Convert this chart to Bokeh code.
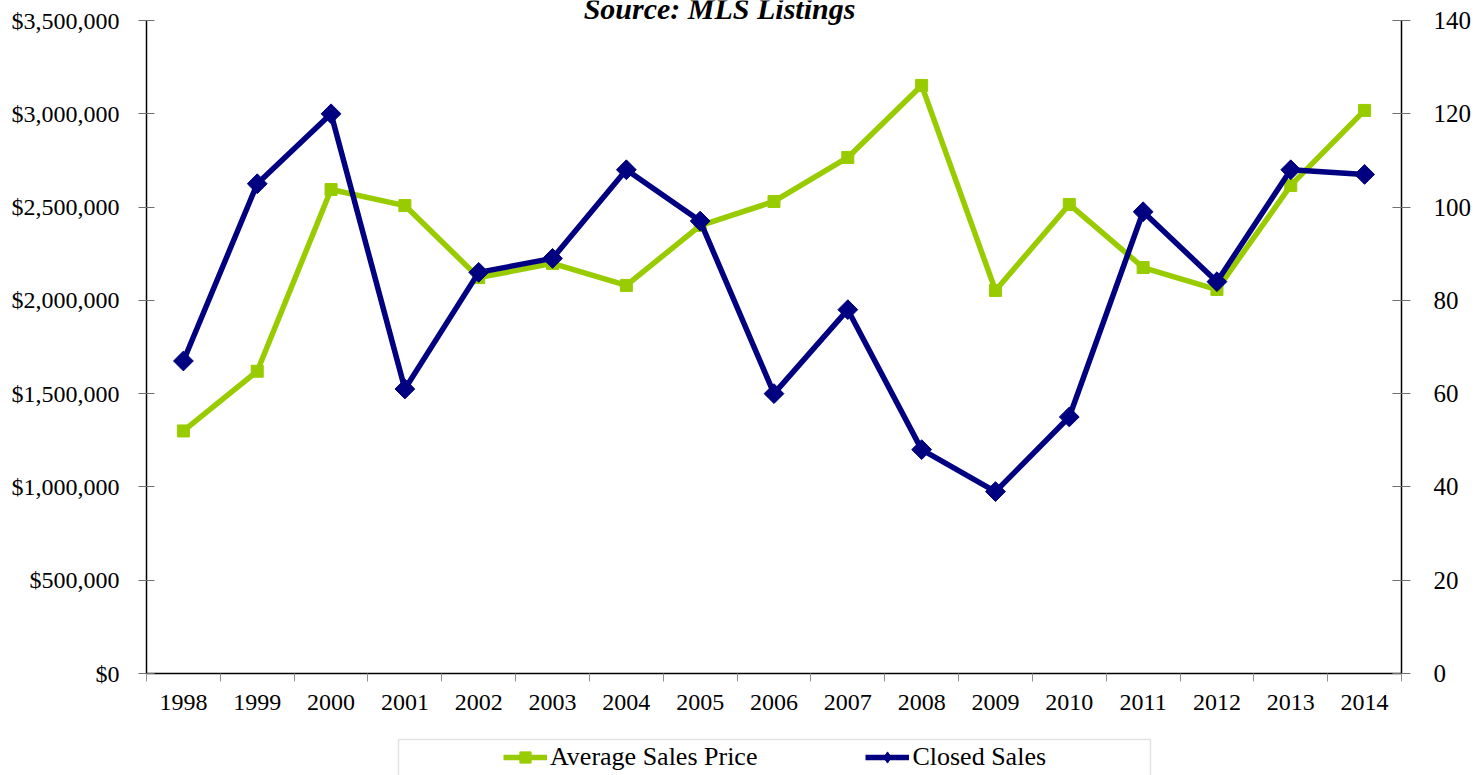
from bokeh.plotting import figure
from bokeh.layouts import column
from bokeh.models import (Range1d, LinearAxis, FixedTicker, NumeralTickFormatter,
                          Label, Legend, LegendItem, BoxAnnotation)
from bokeh.embed import file_html
from bokeh.resources import INLINE

years = ["1998", "1999", "2000", "2001", "2002", "2003", "2004", "2005", "2006",
         "2007", "2008", "2009", "2010", "2011", "2012", "2013", "2014"]
avg_price = [1300000, 1620000, 2594000, 2508000, 2122000, 2198000, 2080000, 2401000,
             2530000, 2766000, 3152000, 2053000, 2514000, 2176000, 2058000, 2616000, 3018000]
closed_sales = [67, 105, 120, 61, 86, 89, 108, 97, 60, 78, 48, 39, 55, 99, 84, 108, 107]
price_ticks = [0, 500000, 1000000, 1500000, 2000000, 2500000, 3000000, 3500000]
sales_ticks = [0, 20, 40, 60, 80, 100, 120, 140]
title_text = "Source: MLS Listings"
series_names = ["Average Sales Price", "Closed Sales"]

FONT = "Liberation Serif"
GREEN = "#99CC00"
NAVY = "#000080"

# plot area: axes span 653 px, frame extends 20 px above for the title
AX_H = 653
TOP_PAD = 20
FRAME_H = AX_H + TOP_PAD
FRAME_L = 146
FRAME_W = 1255
price_max = price_ticks[-1]
sales_max = sales_ticks[-1]

xs = [i + 0.5 for i in range(len(years))]

p = figure(frame_width=FRAME_W, frame_height=FRAME_H, output_backend="svg", toolbar_location=None,
           x_range=Range1d(0, len(years)),
           y_range=Range1d(0, price_max * FRAME_H / AX_H),
           min_border_left=FRAME_L, min_border_top=0, min_border_right=79, min_border_bottom=52,
           x_axis_location=None, y_axis_location=None)
p.outline_line_color = None
p.xgrid.visible = False
p.ygrid.visible = False
p.background_fill_color = "white"
p.border_fill_color = "white"

p.extra_y_ranges = {"sales": Range1d(0, sales_max * FRAME_H / AX_H)}

# bottom axis (ticks between categories, labels at centres)
xaxis = LinearAxis(ticker=FixedTicker(ticks=xs, minor_ticks=list(range(len(years) + 1))))
xaxis.major_label_overrides = {x: y for x, y in zip(xs, years)}
xaxis.major_tick_in = 0
xaxis.major_tick_out = 0
xaxis.minor_tick_in = 0
xaxis.minor_tick_out = 8
xaxis.minor_tick_line_color = "#909090"
xaxis.axis_line_color = "black"
xaxis.axis_line_width = 1.5
xaxis.major_label_text_font = FONT
xaxis.major_label_text_font_size = "24px"
xaxis.major_label_text_color = "black"
xaxis.major_label_standoff = 13
p.add_layout(xaxis, "below")

# left axis
yaxis = LinearAxis(ticker=FixedTicker(ticks=price_ticks),
                   formatter=NumeralTickFormatter(format="$0,0"),
                   bounds=(0, price_max))
yaxis.major_tick_in = 8
yaxis.major_tick_out = 8
yaxis.minor_tick_line_color = None
yaxis.major_tick_line_color = "#707070"
yaxis.axis_line_color = "black"
yaxis.axis_line_width = 1.5
yaxis.major_label_text_font = FONT
yaxis.major_label_text_font_size = "24px"
yaxis.major_label_text_color = "black"
yaxis.major_label_standoff = 19
p.add_layout(yaxis, "left")

# right axis
raxis = LinearAxis(y_range_name="sales", ticker=FixedTicker(ticks=sales_ticks),
                   bounds=(0, sales_max))
raxis.major_tick_in = 9
raxis.major_tick_out = 9
raxis.minor_tick_line_color = None
raxis.major_tick_line_color = "#707070"
raxis.axis_line_color = "black"
raxis.axis_line_width = 1.5
raxis.major_label_text_font = FONT
raxis.major_label_text_font_size = "25px"
raxis.major_label_text_color = "black"
raxis.major_label_standoff = 23
p.add_layout(raxis, "right")

# series
p.line(xs, avg_price, line_color=GREEN, line_width=5.5)
p.scatter(xs, avg_price, marker="square", size=12, fill_color=GREEN, line_color=GREEN)
p.line(xs, closed_sales, line_color=NAVY, line_width=5.5, y_range_name="sales")
p.scatter(xs, closed_sales, marker="square", angle=0.785398, size=14,
          fill_color=NAVY, line_color=NAVY, y_range_name="sales")

# title (partly cut at the top edge, as in the reference)
p.add_layout(Label(x=573, y=AX_H + 12, x_units="screen", y_units="screen", text=title_text,
                   text_font=FONT, text_font_style="bold italic", text_font_size="30px",
                   text_align="center", text_baseline="alphabetic", text_color="black"))

# legend strip below the chart (its frame is aligned with the chart frame)
lg = figure(width=1480, height=50, output_backend="svg", toolbar_location=None,
            x_range=Range1d(FRAME_L, FRAME_L + FRAME_W), y_range=Range1d(0, 50),
            min_border=0, x_axis_location=None, y_axis_location=None)
lg.outline_line_color = None
lg.xgrid.visible = False
lg.ygrid.visible = False
lg.background_fill_color = "white"
lg.border_fill_color = "white"

nan = [float("nan")]
k1 = lg.line(nan, nan, line_color=GREEN, line_width=5.5)
s1 = lg.scatter(nan, nan, marker="square", size=11, fill_color=GREEN, line_color=GREEN)
k2 = lg.line(nan, nan, line_color=NAVY, line_width=5.5)
s2 = lg.scatter(nan, nan, marker="diamond", size=16, fill_color=NAVY, line_color=NAVY)

lg.add_layout(BoxAnnotation(left=398, right=1150, top=36, bottom=-10,
                            fill_alpha=0, line_color="#a0a0a0", line_width=1.5))

legend = Legend(items=[LegendItem(label=series_names[0], renderers=[k1, s1]),
                       LegendItem(label=series_names[1], renderers=[k2, s2])],
                location=(503 - FRAME_L, 3), orientation="horizontal",
                padding=0, margin=0, spacing=108,
                glyph_width=44, glyph_height=28, label_height=28, label_standoff=3,
                label_text_font=FONT, label_text_font_size="26px", label_text_color="black",
                border_line_color=None, background_fill_alpha=0)
lg.add_layout(legend, "center")

layout = column(p, lg, spacing=0)
open("out.html", "w").write(file_html(layout, INLINE))
